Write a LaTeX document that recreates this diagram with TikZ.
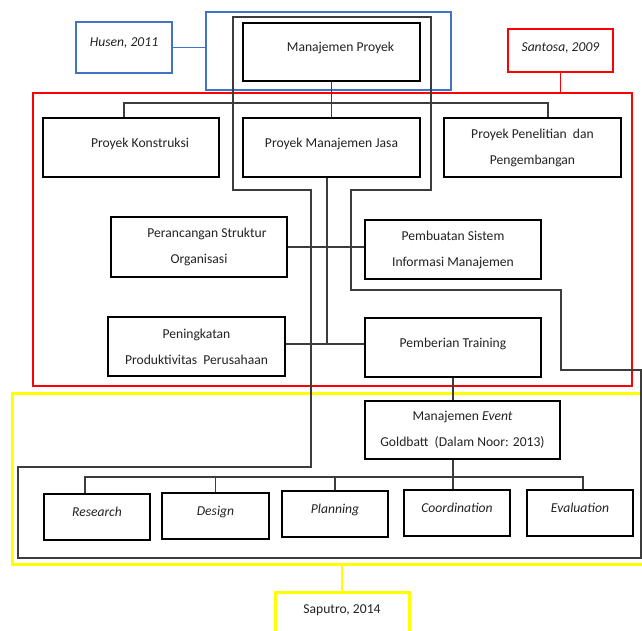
\documentclass[tikz,border=0pt]{standalone}
\usepackage{fontspec}
\setmainfont{Carlito}
\newcommand\dfont{\fontsize{13.6}{26}\selectfont}
\definecolor{txt}{RGB}{35,35,35}
\definecolor{ublue}{RGB}{68,114,196}
\definecolor{ured}{RGB}{255,0,0}
\definecolor{uyellow}{RGB}{255,255,0}
\definecolor{thin}{RGB}{60,60,60}
\begin{document}
\begin{tikzpicture}[x=1pt,y=-1pt,
  box/.style={draw=black,line width=2.3pt,fill=white,align=center,inner sep=1pt,font=\dfont,text=txt},
  oneline/.style={text depth=10pt},
  bluebox/.style={draw=ublue,line width=2.4pt,fill=white,align=center,inner sep=1pt,font=\dfont,text=txt},
  redbox/.style={draw=ured,line width=2.4pt,fill=white,align=center,inner sep=1pt,font=\dfont,text=txt},
  yellowbox/.style={draw=uyellow,line width=3pt,fill=white,align=center,inner sep=1pt,font=\dfont,text=txt},
  group/.style={draw,inner sep=0pt},
  conn/.style={draw=thin,line width=1.3pt},
  outline/.style={draw=thin,line width=1.2pt},
]
\path[use as bounding box,clip] (0,0) rectangle (642,630);
\fill[white] (0,0) rectangle (642,630);

% group frames
\node[group,draw=ured,line width=2.5pt,minimum width=599pt,minimum height=293pt] (redgroup) at (332.5,239.5) {};
\node[group,draw=uyellow,line width=3pt,minimum width=638pt,minimum height=171pt] (yellowgroup) at (331,478.5) {};
\node[group,draw=ublue,line width=2.4pt,minimum width=245pt,minimum height=78pt] (bluegroup) at (328.5,51) {};

% thin grouping outline
\draw[outline] (233,17) -- (431,17) -- (431,190) -- (351,190) -- (351,290) -- (561,290)
  -- (561,370) -- (641,370) -- (641,558) -- (18,558) -- (18,467) -- (311,467)
  -- (311,190) -- (233,190) -- cycle;

% reference boxes
\node[bluebox,oneline,minimum width=96pt,minimum height=51pt] (husen) at (124,47.5) {\textit{Husen, 2011}};
\node[redbox,minimum width=105pt,minimum height=43pt,text depth=7pt] (santosa) at (560.5,50.5) {\textit{Santosa, 2009}};
\node[yellowbox,minimum width=134pt,minimum height=60pt,text depth=26pt] (saputro) at (342,622) {Saputro, 2014};

% main boxes
\node[box,oneline,minimum width=177pt,minimum height=58pt] (mp) at (331.5,52) {\hspace*{18pt}Manajemen Proyek};
\node[box,oneline,minimum width=176pt,minimum height=59pt] (pk) at (131,147.5) {\hspace*{18pt}Proyek Konstruksi};
\node[box,oneline,minimum width=177pt,minimum height=59pt] (pmj) at (331.5,147.5) {Proyek Manajemen Jasa};
\node[box,minimum width=177pt,minimum height=59pt] (ppp) at (532.5,147.5) {Proyek Penelitian~ dan\\Pengembangan};
\node[box,minimum width=176pt,minimum height=60pt] (pso) at (199,247) {\hspace*{16pt}Perancangan Struktur\\Organisasi};
\node[box,minimum width=176pt,minimum height=59pt] (psi) at (453,249.5) {Pembuatan Sistem\\Informasi Manajemen};
\node[box,minimum width=177pt,minimum height=59pt] (ppr) at (196.5,346.5) {Peningkatan\\Produktivitas~ Perusahaan};
\node[box,oneline,minimum width=176pt,minimum height=59pt] (ptr) at (453,347.5) {Pemberian Training};
\node[box,minimum width=195pt,minimum height=58pt] (me) at (462.5,430) {Manajemen \textit{Event}\\Goldbatt~ (Dalam Noor: 2013)};

\node[box,oneline,minimum width=106pt,minimum height=46pt] (research) at (97,517) {\textit{Research}};
\node[box,oneline,minimum width=107pt,minimum height=46pt] (design) at (215.5,516) {\textit{Design}};
\node[box,oneline,minimum width=106pt,minimum height=46pt] (planning) at (335,514) {\textit{Planning}};
\node[box,oneline,minimum width=106pt,minimum height=46pt] (coordination) at (457,513) {\textit{Coordination}};
\node[box,oneline,minimum width=106pt,minimum height=46pt] (evaluation) at (580,513) {\textit{Evaluation}};

% bus coordinates
\coordinate (busL) at (124,103);
\coordinate (busR) at (548,103);
\coordinate (jx) at (327,344);
\coordinate (bL) at (85,477);
\coordinate (bR) at (583,477);

% coloured connectors
\draw[draw=ublue,line width=1.6pt] (husen.east) -- (husen.east -| bluegroup.west);
\draw[draw=ured,line width=1.6pt] (santosa.south) -- (santosa.south |- redgroup.north);
\draw[draw=uyellow,line width=2.2pt] (saputro.north) -- (saputro.north |- yellowgroup.south);

% black connectors
\draw[conn] (mp.south) -- (mp.south |- busL);
\draw[conn] (busL |- pk.north) -- (busL) -- (busR) -- (busR |- ppp.north);
\draw[conn] (pmj.north) -- (pmj.north |- busL);
\draw[conn] (jx |- pmj.south) -- (jx);
\draw[conn] (ppr.east |- jx) -- (ptr.west |- jx);
\draw[conn] (pso.east) -- (pso.east -| psi.west);
\draw[conn] (ptr.south) -- (ptr.south |- me.north);
\draw[conn] (ptr.south |- me.south) -- (ptr.south |- bL);
\draw[conn] (bL |- research.north) -- (bL) -- (bR) -- (bR |- evaluation.north);
\draw[conn] (design.north) -- (design.north |- bL);
\draw[conn] (planning.north) -- (planning.north |- bL);
\draw[conn] (ptr.south |- coordination.north) -- (ptr.south |- bL);
\end{tikzpicture}
\end{document}
